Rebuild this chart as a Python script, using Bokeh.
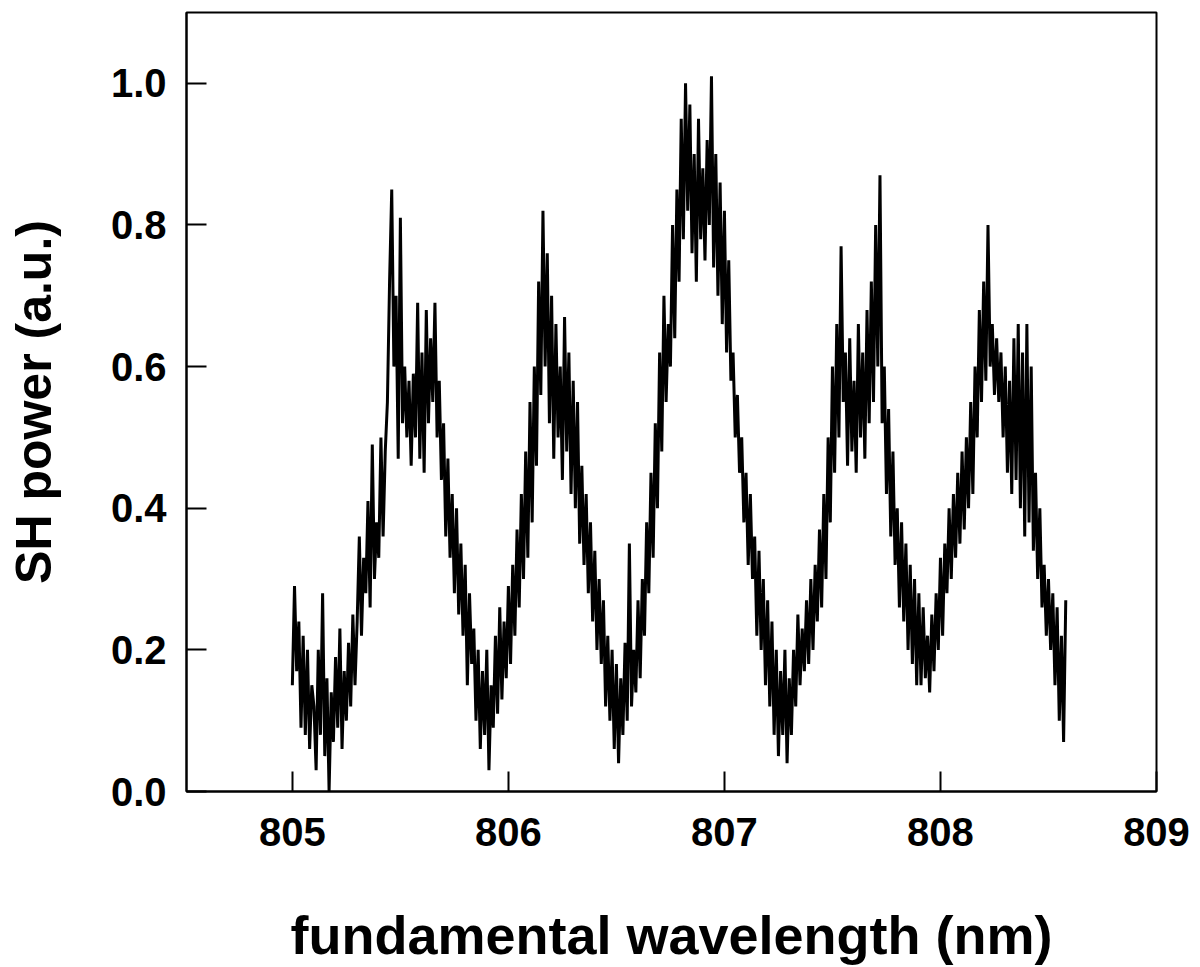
from bokeh.plotting import figure
from bokeh.models import Range1d, FixedTicker, NumeralTickFormatter
from bokeh.embed import file_html
from bokeh.resources import INLINE

# wavelength grid start and step (nm)
x_start = 805.0
x_step = 0.01

# SH power (a.u.), one value per 0.01 nm
sh_power = [
    0.15, 0.29, 0.17, 0.24, 0.09, 0.22, 0.08, 0.20, 0.06, 0.15,
    0.12, 0.03, 0.20, 0.08, 0.28, 0.05, 0.16, 0.00, 0.14, 0.07,
    0.19, 0.09, 0.23, 0.06, 0.17, 0.10, 0.21, 0.12, 0.25, 0.15,
    0.24, 0.36, 0.22, 0.33, 0.28, 0.41, 0.26, 0.49, 0.30, 0.38,
    0.33, 0.50, 0.36, 0.48, 0.55, 0.72, 0.85, 0.60, 0.70, 0.47,
    0.81, 0.52, 0.60, 0.50, 0.58, 0.46, 0.59, 0.50, 0.69, 0.47,
    0.62, 0.45, 0.68, 0.52, 0.64, 0.55, 0.69, 0.50, 0.58, 0.44,
    0.52, 0.36, 0.47, 0.33, 0.42, 0.28, 0.40, 0.25, 0.35, 0.22,
    0.32, 0.15, 0.28, 0.18, 0.23, 0.10, 0.20, 0.06, 0.17, 0.08,
    0.20, 0.03, 0.15, 0.09, 0.22, 0.11, 0.26, 0.13, 0.24, 0.16,
    0.29, 0.18, 0.32, 0.22, 0.37, 0.26, 0.42, 0.30, 0.48, 0.33,
    0.55, 0.38, 0.60, 0.46, 0.72, 0.56, 0.82, 0.60, 0.76, 0.52,
    0.70, 0.47, 0.66, 0.50, 0.60, 0.44, 0.67, 0.48, 0.62, 0.42,
    0.58, 0.40, 0.55, 0.35, 0.46, 0.32, 0.42, 0.28, 0.38, 0.24,
    0.34, 0.20, 0.30, 0.18, 0.27, 0.12, 0.22, 0.10, 0.20, 0.06,
    0.18, 0.04, 0.16, 0.08, 0.21, 0.10, 0.35, 0.12, 0.20, 0.14,
    0.27, 0.16, 0.30, 0.22, 0.38, 0.28, 0.45, 0.33, 0.52, 0.40,
    0.62, 0.48, 0.70, 0.55, 0.66, 0.60, 0.80, 0.64, 0.85, 0.72,
    0.95, 0.78, 1.00, 0.82, 0.97, 0.76, 0.90, 0.72, 0.95, 0.78,
    0.88, 0.75, 0.92, 0.80, 1.01, 0.74, 0.90, 0.70, 0.86, 0.66,
    0.82, 0.62, 0.75, 0.58, 0.62, 0.50, 0.56, 0.45, 0.50, 0.38,
    0.45, 0.32, 0.42, 0.30, 0.36, 0.22, 0.34, 0.20, 0.30, 0.15,
    0.27, 0.12, 0.24, 0.08, 0.20, 0.05, 0.17, 0.08, 0.20, 0.04,
    0.16, 0.08, 0.20, 0.12, 0.25, 0.15, 0.23, 0.17, 0.27, 0.18,
    0.30, 0.20, 0.32, 0.24, 0.37, 0.26, 0.42, 0.30, 0.50, 0.38,
    0.60, 0.45, 0.66, 0.50, 0.77, 0.55, 0.62, 0.46, 0.64, 0.48,
    0.58, 0.45, 0.66, 0.50, 0.62, 0.47, 0.68, 0.52, 0.72, 0.55,
    0.80, 0.60, 0.87, 0.52, 0.60, 0.42, 0.54, 0.36, 0.48, 0.32,
    0.40, 0.26, 0.38, 0.24, 0.35, 0.20, 0.32, 0.18, 0.30, 0.15,
    0.28, 0.15, 0.26, 0.16, 0.22, 0.14, 0.25, 0.17, 0.28, 0.20,
    0.33, 0.22, 0.35, 0.28, 0.40, 0.30, 0.42, 0.33, 0.45, 0.35,
    0.48, 0.37, 0.50, 0.40, 0.55, 0.42, 0.60, 0.50, 0.68, 0.55,
    0.72, 0.58, 0.80, 0.60, 0.66, 0.56, 0.64, 0.55, 0.62, 0.50,
    0.60, 0.45, 0.58, 0.42, 0.64, 0.44, 0.66, 0.40, 0.62, 0.36,
    0.66, 0.38, 0.60, 0.34, 0.45, 0.30, 0.40, 0.26, 0.32, 0.22,
    0.30, 0.20, 0.28, 0.15, 0.26, 0.10, 0.22, 0.07, 0.27,
]
wavelength = [round(x_start + i * x_step, 3) for i in range(len(sh_power))]

x_ticks = [805, 806, 807, 808, 809]
y_ticks = [0.0, 0.2, 0.4, 0.6, 0.8, 1.0]

FONT = "Liberation Sans"

p = figure(
    width=1190, height=967,
    x_range=Range1d(804.51, 809.0), y_range=Range1d(0, 1.1),
    output_backend="svg", toolbar_location=None,
    min_border_left=186, min_border_right=34,
    min_border_top=12, min_border_bottom=176,
)
p.xgrid.visible = False
p.ygrid.visible = False
p.outline_line_color = "black"
p.outline_line_width = 2
p.background_fill_color = "white"
p.border_fill_color = "white"

p.line(wavelength, sh_power, line_color="black", line_width=3.0, line_join="miter")

for ax in (p.xaxis[0], p.yaxis[0]):
    ax.axis_line_color = "black"
    ax.axis_line_width = 2
    ax.major_tick_in = 20
    ax.major_tick_out = 0
    ax.major_tick_line_width = 2
    ax.minor_tick_line_color = None
    ax.major_label_text_font = FONT
    ax.major_label_text_font_style = "bold"
    ax.major_label_text_font_size = "40px"
    ax.major_label_text_color = "black"
    ax.axis_label_text_font = FONT
    ax.axis_label_text_font_style = "bold"
    ax.axis_label_text_color = "black"

p.xaxis[0].ticker = FixedTicker(ticks=x_ticks)
p.xaxis[0].formatter = NumeralTickFormatter(format="0")
p.xaxis[0].axis_label = "fundamental wavelength (nm)"
p.xaxis[0].axis_label_text_font_size = "54px"
p.xaxis[0].major_label_standoff = 26
p.xaxis[0].axis_label_standoff = 56

p.yaxis[0].ticker = FixedTicker(ticks=y_ticks)
p.yaxis[0].formatter = NumeralTickFormatter(format="0.0")
p.yaxis[0].major_label_standoff = 20
p.yaxis[0].axis_label = "SH power (a.u.)"
p.yaxis[0].axis_label_text_font_size = "50px"
p.yaxis[0].axis_label_standoff = 46

open("out.html", "w").write(file_html(p, INLINE))
